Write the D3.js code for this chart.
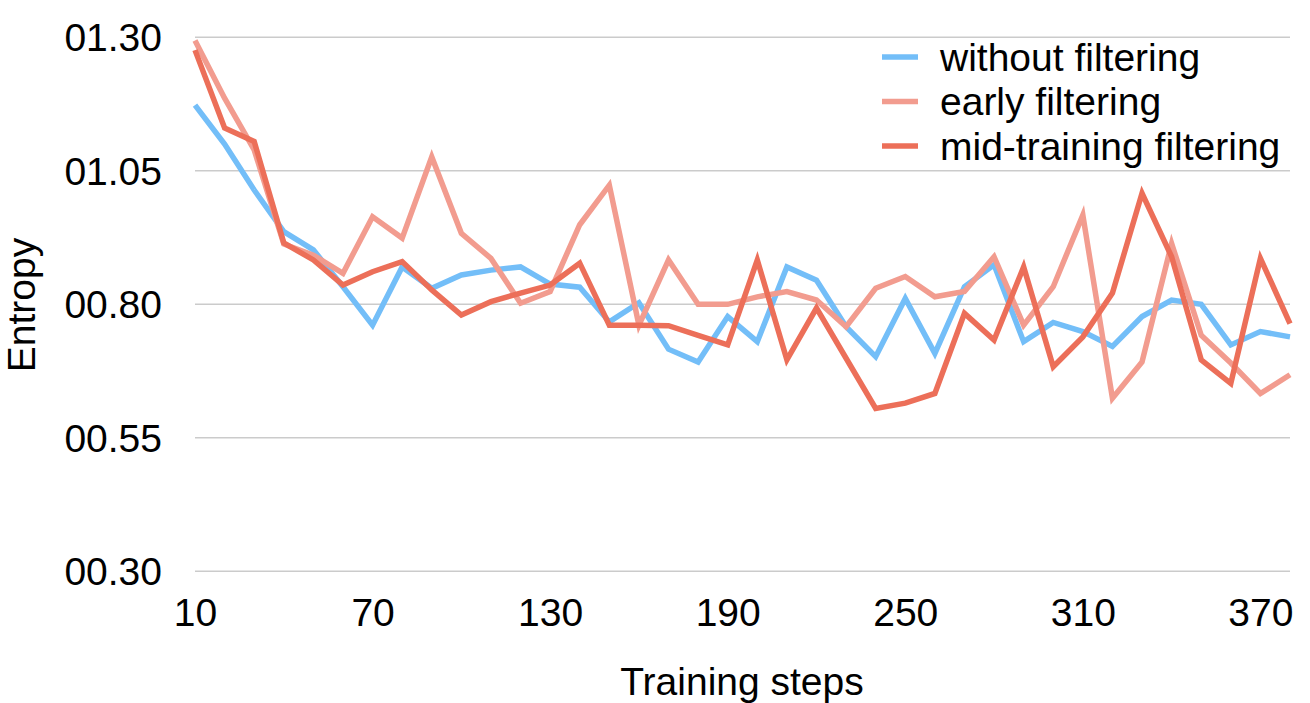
<!DOCTYPE html>
<html><head><meta charset="utf-8">
<script src="https://cdn.jsdelivr.net/npm/d3@7"></script>
<style>body{margin:0;background:#fff;} svg{display:block;}</style>
</head><body>
<svg id="c" width="1310" height="703"></svg>
<script>
const steps = d3.range(10, 390, 10);
const withoutFiltering = [1.173,1.100,1.014,0.936,0.902,0.833,0.761,0.870,0.830,0.855,0.864,0.870,0.838,
  0.832,0.767,0.803,0.716,0.692,0.777,0.730,0.870,0.845,0.758,0.702,0.811,0.708,0.833,0.874,0.730,0.766,
  0.749,0.721,0.777,0.808,0.800,0.724,0.749,0.739];
const earlyFiltering = [1.294,1.186,1.089,0.913,0.892,0.858,0.964,0.924,1.076,0.933,0.886,0.802,0.824,
  0.949,1.023,0.761,0.883,0.800,0.800,0.814,0.824,0.808,0.758,0.830,0.852,0.814,0.824,0.889,0.761,0.833,
  0.967,0.624,0.692,0.914,0.742,0.690,0.633,0.668];
const midTrainingFiltering = [1.276,1.130,1.105,0.915,0.883,0.836,0.861,0.880,0.827,0.780,0.805,0.821,0.836,
  0.877,0.761,0.761,0.760,0.742,0.724,0.883,0.696,0.793,0.699,0.605,0.615,0.633,0.783,0.733,0.870,0.683,
  0.739,0.821,1.008,0.889,0.696,0.652,0.886,0.764];
const seriesNames = ["without filtering","early filtering","mid-training filtering"];
const seriesColors = ["#73BEF8","#F29C8F","#EC6F59"];
const yTickValues = [0.30,0.55,0.80,1.05,1.30];
const yTickLabels = ["00.30","00.55","00.80","01.05","01.30"];
const xTickValues = [10,70,130,190,250,310,370];

const svg = d3.select("#c");
const font = "'Liberation Sans', Arial, Helvetica, sans-serif";
const FS = 39;
const L = 195, R = 1290, T = 37.3, B = 571.3;
const x = d3.scaleLinear().domain([10,380]).range([L,R]);
const y = d3.scaleLinear().domain([0.30,1.30]).range([B,T]);

// gridlines
svg.append("g").selectAll("line").data(yTickValues).join("line")
  .attr("x1",L).attr("x2",R).attr("y1",d=>y(d)).attr("y2",d=>y(d))
  .attr("stroke","#cbcbcb").attr("stroke-width",1.5);

// y axis labels
const yAxis = d3.axisLeft(y).tickValues(yTickValues).tickSize(0).tickPadding(0)
  .tickFormat((d,i)=>yTickLabels[i]);
const gy = svg.append("g").attr("transform","translate(162,0)").call(yAxis);
gy.select(".domain").remove();
gy.selectAll("text").attr("font-family",font).attr("font-size",FS).attr("fill","#000").attr("dy","0.35em");

// x axis labels
const xAxis = d3.axisBottom(x).tickValues(xTickValues).tickSize(0).tickPadding(0).tickFormat(d3.format("d"));
const gx = svg.append("g").attr("transform","translate(0,598)").call(xAxis);
gx.select(".domain").remove();
gx.selectAll("text").attr("font-family",font).attr("font-size",FS).attr("fill","#000");

// axis titles
svg.append("text").attr("x",742).attr("y",695).attr("text-anchor","middle")
  .attr("font-family",font).attr("font-size",FS).text("Training steps");
svg.append("text").attr("transform","translate(35,305) rotate(-90)").attr("text-anchor","middle")
  .attr("font-family",font).attr("font-size",FS).text("Entropy");

// lines
const data = [withoutFiltering, earlyFiltering, midTrainingFiltering];
const line = d3.line().x((d,i)=>x(steps[i])).y(d=>y(d));
[0,1,2].forEach(k=>{
  svg.append("path").datum(data[k]).attr("d",line).attr("fill","none")
    .attr("stroke",seriesColors[k]).attr("stroke-width",5.5).attr("stroke-linejoin","miter");
});

// legend
const lg = svg.append("g");
seriesNames.forEach((n,i)=>{
  const cy = 57 + i*44.5;
  lg.append("line").attr("x1",882).attr("x2",918).attr("y1",cy).attr("y2",cy)
    .attr("stroke",seriesColors[i]).attr("stroke-width",5.5);
  lg.append("text").attr("x",940).attr("y",cy).attr("dy","0.35em")
    .attr("font-family",font).attr("font-size",FS).text(n);
});
</script>
</body></html>
